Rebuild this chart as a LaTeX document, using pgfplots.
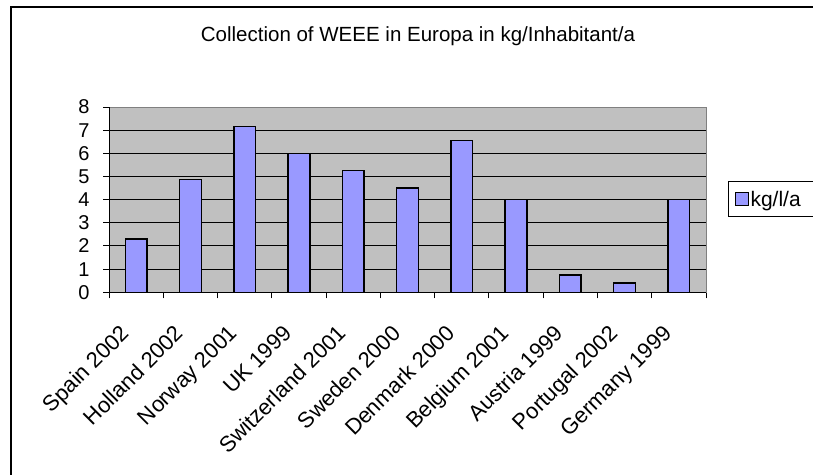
\documentclass[border=0pt]{standalone}
\usepackage{pgfplots}
\pgfplotsset{compat=1.18}
\usepackage{fontspec}
\setmainfont{Liberation Sans}
\definecolor{barfill}{HTML}{9999FF}
\definecolor{plotbg}{HTML}{C0C0C0}
\definecolor{bordergray}{HTML}{808080}
\begin{document}
\begin{tikzpicture}
\useasboundingbox (0bp,0bp) rectangle (813bp,-475bp);
\fill[white] (0bp,0bp) rectangle (813bp,-475bp);
\draw[black, line width=1.5bp] (11bp,-480bp) -- (11bp,-7bp) -- (820bp,-7bp);
\node[font=\fontsize{20.5bp}{24bp}\selectfont, anchor=base, inner sep=0pt] at (418bp,-41.7bp) {Collection of WEEE in Europa in kg/Inhabitant/a};
\begin{axis}[
  at={(109bp,-292.3bp)}, anchor=south west,
  width=597bp, height=185.3bp, scale only axis,
  xmin=-0.5, xmax=10.5, ymin=0, ymax=8,
  axis background/.style={fill=plotbg},
  axis line style={draw=bordergray, line width=1bp},
  xtick={0,...,10},
  xticklabels={Spain 2002, Holland 2002, Norway 2001, UK 1999, Switzerland 2001, Sweden 2000, Denmark 2000, Belgium 2001, Austria 1999, Portugal 2002, Germany 1999},
  xtick style={draw=none},
  minor xtick={-0.5,0.5,...,10.5},
  minor x tick style={draw=black, line width=1bp},
  minor tick length=6bp,
  major tick length=6bp,
  xtick pos=left, ytick pos=left,
  tick align=outside,
  ytick={0,...,8},
  ytick style={draw=black, line width=1bp},
  extra y ticks={1,...,7},
  extra y tick labels={},
  extra y tick style={ymajorgrids=true, major tick length=0pt, grid style={draw=black, line width=1bp}},
  /pgf/number format/assume math mode=true,
  yticklabel style={font=\fontsize{20bp}{24bp}\selectfont, anchor=east, xshift=-10bp},
  xticklabel style={font=\fontsize{22bp}{26bp}\selectfont, xshift=-17bp, yshift=-25bp, rotate=45, anchor=north east, inner sep=0pt},
  legend style={at={(1.0369,0.599)}, anchor=north west, draw=black, line width=1bp, fill=white,
    font=\fontsize{21bp}{25bp}\selectfont, inner xsep=6bp, inner ysep=7bp},
  legend image code/.code={\draw[barfill, fill=barfill, draw=black, line width=1bp] (0bp,-6.5bp) rectangle (13bp,6.5bp);},
  legend cell align=left,
]
\addplot[ybar, bar width=0.4, fill=barfill, draw=black, line width=1.5bp] coordinates {
  (0,2.31) (1,4.86) (2,7.16) (3,6.00) (4,5.26) (5,4.51) (6,6.55) (7,4.00) (8,0.75) (9,0.40) (10,4.00)
};
\addlegendentry{kg/l/a\rule{0pt}{0pt}\hspace*{200bp}\rule{0pt}{0pt}}
\draw[black, line width=1.2bp] (rel axis cs:0,1) -- (rel axis cs:0,0) -- (rel axis cs:1,0);
\end{axis}
\end{tikzpicture}
\end{document}
